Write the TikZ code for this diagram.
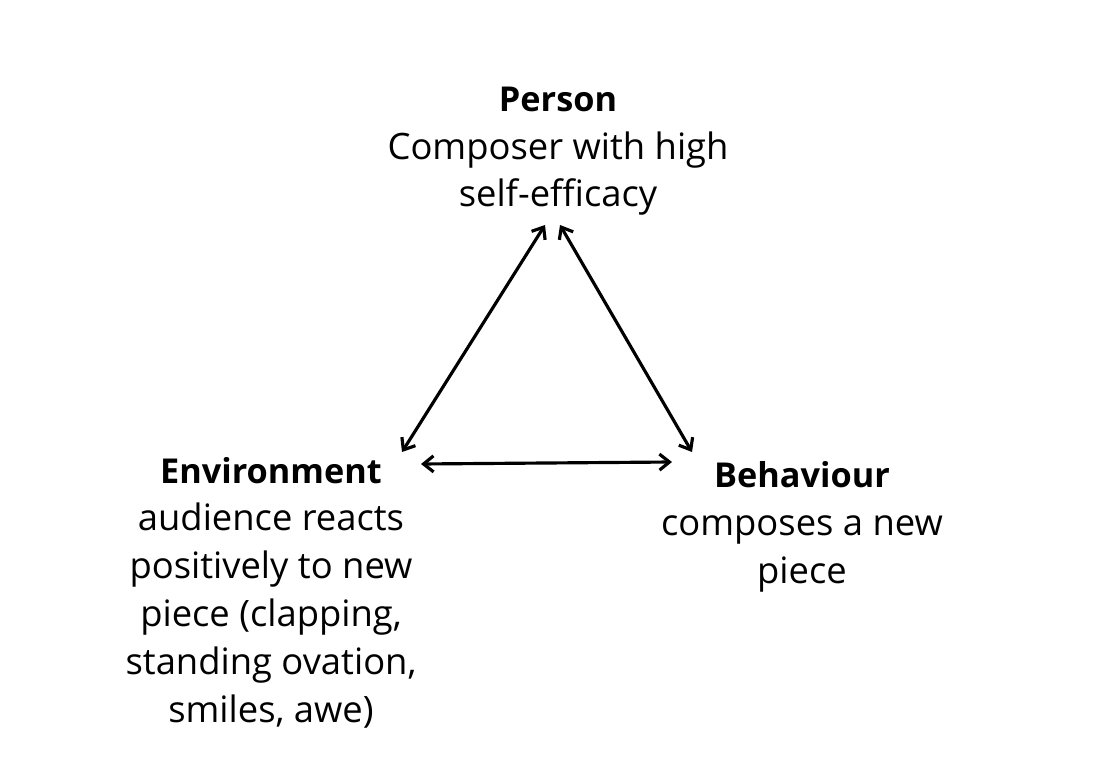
\documentclass[tikz,border=0pt]{standalone}
\usepackage{fontspec}
\setmainfont{Open Sans}
\usetikzlibrary{arrows.meta}

\newcommand{\headline}[1]{{\fontsize{19.5}{27.2}\selectfont\bfseries #1}}

\begin{document}
\begin{tikzpicture}[x=0.02cm, y=-0.02cm,
	block/.style={align=center, inner sep=0pt, anchor=base, font=\fontsize{20.7}{27.2}\selectfont},
	link/.style={{Straight Barb[length=2mm,width=3.2mm]}-{Straight Barb[length=2mm,width=3.2mm]}, line width=1.8pt}]
	\useasboundingbox (0,0) rectangle (1102,766);

	\node[block] (person)      at (558,207) {\headline{Person}\\Composer with high\\self-efficacy};
	\node[block] (environment) at (271,722) {\headline{Environment}\\audience reacts\\positively to new\\piece (clapping,\\standing ovation,\\smiles, awe)};
	\node[block] (behaviour)   at (802,583) {\headline{Behaviour}\\composes a new\\piece};

	\coordinate (p1) at (545,225);
	\coordinate (p2) at (560,225);
	\coordinate (e1) at (402,452);
	\coordinate (e2) at (421,464);
	\coordinate (b1) at (692,452);
	\coordinate (b2) at (672,462);

	\path [link] (p1) edge (e1);
	\path [link] (p2) edge (b1);
	\path [link] (e2) edge (b2);
\end{tikzpicture}
\end{document}
